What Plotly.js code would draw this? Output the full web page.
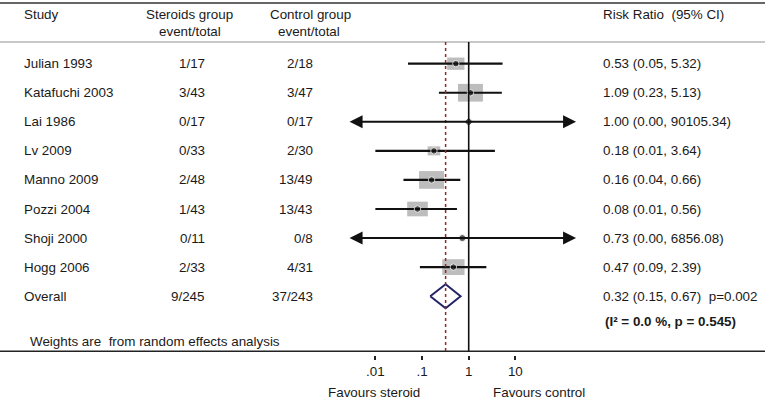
<!DOCTYPE html>
<html>
<head>
<meta charset="utf-8">
<script src="https://cdn.plot.ly/plotly-3.0.1.min.js"></script>
<style>html,body{margin:0;padding:0;background:#fff;}#chart{width:765px;height:400px;}</style>
</head>
<body>
<div id="chart"></div>
<script>
// ---- data ----
const studies = ['Julian 1993','Katafuchi 2003','Lai 1986','Lv 2009','Manno 2009','Pozzi 2004','Shoji 2000','Hogg 2006'];
const steroidEvents = [1,3,0,0,2,1,0,2];
const steroidTotals = [17,43,17,33,48,43,11,33];
const controlEvents = [2,3,0,2,13,13,0,4];
const controlTotals = [18,47,17,30,49,43,8,31];
const riskRatio = [0.53,1.09,1.00,0.18,0.16,0.08,0.73,0.47];
const ciLow = [0.05,0.23,0.00,0.01,0.04,0.01,0.00,0.09];
const ciHigh = [5.32,5.13,90105.34,3.64,0.66,0.56,6856.08,2.39];
const weights = [11.4,23.7,0,6.1,23.7,16.2,0,18.9];
const overall = {rr:0.32, lo:0.15, hi:0.67, p:'0.002'};
const heterogeneity = '(I² = 0.0 %, p = 0.545)';
const tickValues = [0.01,0.1,1,10];
const tickLabels = ['.01','.1','1','10'];
const displayMin = 0.0026, displayMax = 200;

// ---- layout helpers ----
const W = 765, H = 400;
const pxPerDecade = 46.67, xOne = 468.7;
const rowTop = 63.7, rowStep = 29.06;
const L = Math.log10;
const py = p => 1 - p / H;      // pixel y -> paper
const px = p => p / W;          // pixel x -> paper
const FONT = '"Liberation Sans", Arial, sans-serif';
const FS = 13.4;
const TXT = '#1a1a1a';

const xRange = [(0 - xOne) / pxPerDecade, (W - xOne) / pxPerDecade];
const yRange = [(H - rowTop) / rowStep, (0 - rowTop) / rowStep];

const rows = studies.map((_, i) => i);
const overallRow = studies.length;

const traces = [];
const shapes = [];
const annotations = [];

// structural lines
shapes.push({type:'line', xref:'paper', yref:'paper', x0:0, x1:1, y0:py(3), y1:py(3), line:{color:'#333', width:1.5}});
shapes.push({type:'line', xref:'paper', yref:'paper', x0:0, x1:1, y0:py(42), y1:py(42), line:{color:'#c8c8c8', width:2}});
shapes.push({type:'line', xref:'paper', yref:'paper', x0:0, x1:1, y0:py(351.2), y1:py(351.2), line:{color:'#222', width:1.5}});
shapes.push({type:'line', xref:'x', yref:'paper', x0:0, x1:0, y0:py(42), y1:py(351.2), line:{color:'#111', width:1.6}});
shapes.push({type:'line', xref:'x', yref:'paper', x0:L(overall.rr), x1:L(overall.rr), y0:py(42), y1:py(351.2), line:{color:'#8b2a2a', width:1.5, dash:'3px,3px'}});

// weight boxes
rows.forEach(i => {
  if (weights[i] <= 0) return;
  const w = 5.13 * Math.sqrt(weights[i]);
  const h = 0.71 * w;
  shapes.push({type:'rect', layer:'below', xref:'x', yref:'y', xsizemode:'pixel', ysizemode:'pixel',
    xanchor:L(riskRatio[i]), yanchor:i, x0:-w/2, x1:w/2, y0:-h/2, y1:h/2,
    fillcolor:'#bdbdbd', line:{width:0}});
});

// CI lines
rows.forEach(i => {
  const lo = Math.max(ciLow[i], displayMin);
  const hi = Math.min(ciHigh[i], displayMax);
  const clipLo = ciLow[i] < displayMin, clipHi = ciHigh[i] > displayMax;
  if (!clipLo && !clipHi) {
    traces.push({type:'scatter', mode:'lines', x:[L(lo), L(hi)], y:[i, i], line:{color:'#111', width:2.2}, hoverinfo:'skip', showlegend:false});
  } else {
    annotations.push({xref:'x', yref:'y', axref:'x', ayref:'y',
      x: clipHi ? L(hi) : L(lo), y:i, ax: clipHi ? L(lo) : L(hi), ay:i,
      text:'', showarrow:true, arrowhead:2, arrowsize:1.3, arrowwidth:2, arrowcolor:'#111',
      arrowside: (clipLo && clipHi) ? 'end+start' : 'end', standoff:0, startstandoff:0});
  }
});

// point estimates
traces.push({type:'scatter', mode:'markers', x:riskRatio.map(L), y:rows,
  marker:{color:'#111', size:rows.map(i => weights[i] > 0 ? 6.5 : 7), symbol:rows.map(i => ciHigh[i] > 10000 ? 'diamond' : 'circle')},
  hoverinfo:'skip', showlegend:false});

// overall diamond
const dh = 12 / rowStep;
traces.push({type:'scatter', mode:'lines',
  x:[L(overall.lo), L(overall.rr), L(overall.hi), L(overall.rr), L(overall.lo)],
  y:[overallRow, overallRow - dh, overallRow, overallRow + dh, overallRow],
  line:{color:'#232366', width:2}, hoverinfo:'skip', showlegend:false});

// text helpers
function txt(text, x, y, yref, anchor, opts) {
  annotations.push(Object.assign({xref:'paper', yref:yref, x:x, y:y, text:text, showarrow:false,
    xanchor:anchor, yanchor:'middle', font:{family:FONT, size:FS, color:TXT}}, opts || {}));
}

// header
txt('Study', px(22), py(15), 'paper', 'left');
txt('Steroids group', px(189), py(15), 'paper', 'center');
txt('event/total', px(190), py(32), 'paper', 'center');
txt('Control group', px(310), py(15), 'paper', 'center');
txt('event/total', px(309), py(32), 'paper', 'center');
txt('Risk Ratio  (95% CI)', px(601), py(15), 'paper', 'left');

// rows
const sum = a => a.reduce((s, v) => s + v, 0);
rows.forEach(i => {
  txt(studies[i], px(22), i, 'y', 'left');
  txt(steroidEvents[i] + '/' + steroidTotals[i], px(207), i, 'y', 'right');
  txt(controlEvents[i] + '/' + controlTotals[i], px(315), i, 'y', 'right');
  txt(riskRatio[i].toFixed(2) + ' (' + ciLow[i].toFixed(2) + ', ' + ciHigh[i].toFixed(2) + ')', px(601), i, 'y', 'left');
});
txt('Overall', px(22), overallRow, 'y', 'left');
txt(sum(steroidEvents) + '/' + sum(steroidTotals), px(207), overallRow, 'y', 'right');
txt(sum(controlEvents) + '/' + sum(controlTotals), px(315), overallRow, 'y', 'right');
txt(overall.rr.toFixed(2) + ' (' + overall.lo.toFixed(2) + ', ' + overall.hi.toFixed(2) + ')  p=' + overall.p, px(601), overallRow, 'y', 'left');
txt('<b>' + heterogeneity + '</b>', px(603), py(321), 'paper', 'left');
txt('Weights are  from random effects analysis', px(28), py(341.5), 'paper', 'left');
txt('Favours steroid', px(373.5), py(392.5), 'paper', 'center');
txt('Favours control', px(539), py(392.5), 'paper', 'center');

const layout = {
  width:W, height:H, margin:{l:0, r:0, t:0, b:0},
  paper_bgcolor:'#fff', plot_bgcolor:'#fff', showlegend:false,
  xaxis:{type:'linear', range:xRange, domain:[0,1], anchor:'free', position:py(355),
    showgrid:false, zeroline:false, showline:false,
    tickmode:'array', tickvals:tickValues.map(L), ticktext:tickLabels,
    ticks:'outside', ticklen:4, tickwidth:2, tickcolor:'#222',
    tickfont:{family:FONT, size:FS, color:TXT}, fixedrange:true},
  yaxis:{range:yRange, domain:[0,1], visible:false, fixedrange:true},
  shapes:shapes, annotations:annotations
};

Plotly.newPlot('chart', traces, layout, {displayModeBar:false, staticPlot:true});
</script>
</body>
</html>
